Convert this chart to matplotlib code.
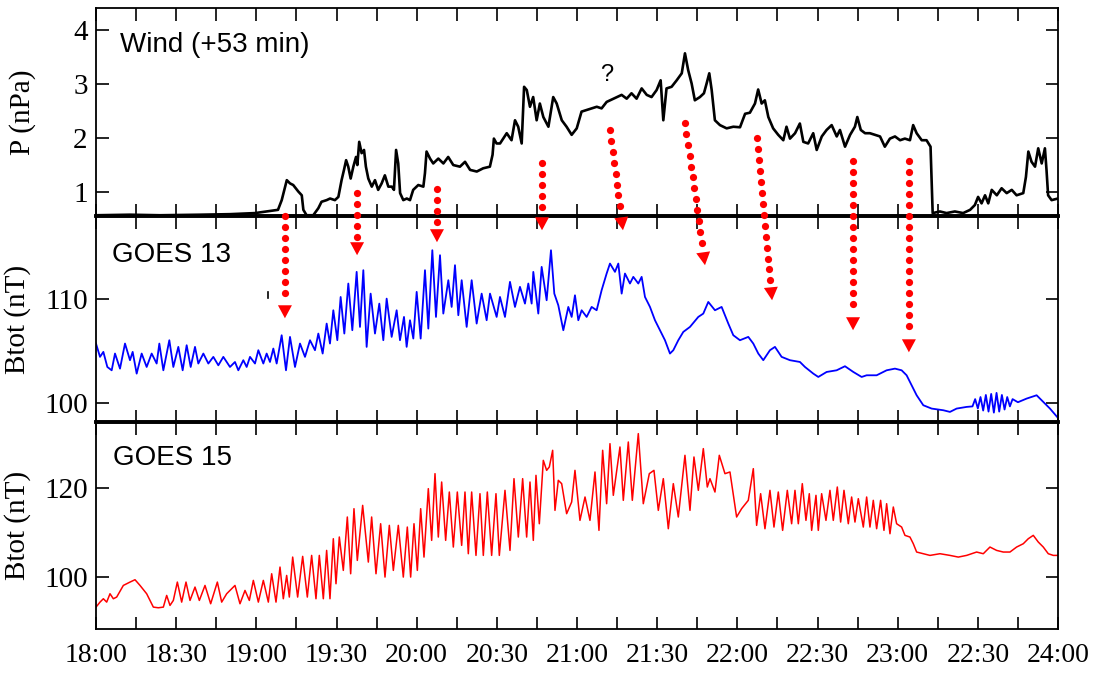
import matplotlib
matplotlib.use('Agg')
import matplotlib.pyplot as plt
from matplotlib.lines import Line2D
from matplotlib.patches import Polygon
import numpy as np

# ---------------- data (time in minutes after 18:00) ----------------
wind_t = [0, 12.7, 23.9, 38.9, 50.1, 59.5, 65.1, 68.1, 69.5, 71.4,
          72.6, 73.8, 75.7, 77.0, 77.6, 78.8, 81.3, 83.2, 84.4, 86.3,
          87.6, 89.4, 90.7, 91.9, 92.8, 93.6, 94.4, 95.3, 96.3, 97.3,
          97.8, 98.5, 99.4, 100.3, 101.0, 101.9, 103.2, 104.4, 105.6, 106.9,
          108.1, 109.4, 110.7, 111.5, 112.3, 113.1, 113.8, 115.0, 116.3, 117.5,
          118.7, 120.6, 122.5, 123.1, 123.7, 125.0, 126.2, 128.1, 130.0, 131.8,
          133.7, 136.2, 138.1, 140.0, 142.5, 144.9, 147.4, 148.4, 148.9, 149.9,
          151.2, 153.7, 155.5, 156.8, 158.0, 159.3, 160.2, 161.2, 162.4, 163.6,
          164.9, 166.1, 167.4, 169.3, 171.1, 172.4, 174.3, 176.1, 178.0, 179.9,
          181.7, 183.6, 185.5, 187.4, 189.2, 191.1, 196.7, 198.6, 200.4, 202.3,
          204.2, 206.1, 207.9, 209.8, 211.3, 212.3, 213.5, 215.4, 217.3, 219.2,
          220.4, 221.6, 222.9, 224.1, 226.0, 227.5, 228.5, 229.5, 230.4, 231.6,
          233.5, 236.0, 238.5, 241.0, 242.9, 244.7, 246.6, 247.8, 249.1, 250.3,
          251.6, 253.4, 255.3, 257.2, 258.4, 259.7, 261.6, 263.4, 264.7, 266.5,
          268.4, 269.7, 271.6, 273.4, 275.3, 277.2, 278.4, 280.3, 282.2, 284.0,
          284.9, 286.2, 287.8, 289.6, 291.5, 293.4, 295.2, 297.1, 299.0, 300.9,
          302.7, 304.6, 305.8, 307.1, 309.0, 310.8, 312.3, 313.1, 315.8, 318.3,
          321.4, 324.5, 327.1, 328.9, 330.1, 331.4, 332.7, 333.9, 335.2, 337.1,
          338.9, 340.8, 342.7, 344.5, 347.0, 348.0, 348.9, 350.1, 351.4, 352.6,
          353.9, 355.1, 355.7, 356.3, 357.6, 360]
wind_p = [0.57, 0.58, 0.57, 0.58, 0.59, 0.61, 0.65, 0.67, 0.85, 1.22,
          1.16, 1.13, 1.01, 0.94, 0.67, 0.57, 0.57, 0.70, 0.82, 0.85,
          0.88, 0.85, 0.91, 1.22, 1.41, 1.59, 1.47, 1.25, 1.47, 1.65,
          1.50, 1.93, 1.72, 1.78, 1.47, 1.25, 1.10, 1.22, 1.04, 1.16,
          1.31, 1.10, 1.10, 1.04, 1.78, 1.53, 0.98, 0.85, 0.88, 0.85,
          1.04, 1.13, 1.10, 1.35, 1.75, 1.62, 1.53, 1.62, 1.53, 1.65,
          1.50, 1.47, 1.56, 1.41, 1.38, 1.44, 1.47, 1.69, 1.99, 1.90,
          1.90, 2.09, 1.96, 2.33, 2.21, 1.90, 2.95, 2.89, 2.58, 2.76,
          2.33, 2.64, 2.39, 2.21, 2.76, 2.64, 2.33, 2.21, 2.06, 2.18,
          2.49, 2.52, 2.55, 2.58, 2.55, 2.67, 2.80, 2.73, 2.83, 2.73,
          2.92, 2.80, 2.76, 2.89, 3.07, 2.33, 2.92, 2.95, 3.07, 3.20,
          3.57, 3.26, 3.01, 2.70, 2.76, 2.83, 3.01, 3.20, 2.89, 2.33,
          2.24, 2.18, 2.21, 2.20, 2.45, 2.47, 2.64, 2.90, 2.64, 2.70,
          2.39, 2.18, 2.06, 1.96, 2.21, 1.99, 2.09, 2.27, 1.93, 1.90,
          2.09, 1.78, 2.03, 2.15, 2.24, 2.03, 2.15, 1.84, 2.06, 2.21,
          2.39, 2.15, 2.09, 2.09, 2.06, 2.03, 1.84, 1.99, 2.03, 1.96,
          1.99, 1.96, 2.24, 2.09, 1.96, 1.96, 1.84, 0.61, 0.64, 0.61,
          0.64, 0.61, 0.67, 0.76, 0.91, 0.79, 0.94, 0.79, 1.04, 0.94,
          1.07, 0.98, 1.04, 0.94, 0.98, 1.28, 1.75, 1.56, 1.47, 1.81,
          1.53, 1.81, 1.41, 0.94, 0.85, 0.88]

g13_t = [0, 1.50, 2.75, 4.24, 5.87, 7.11, 8.98, 10.85, 12.72, 13.72,
         15.22, 17.09, 18.96, 20.83, 22.70, 23.70, 25.20, 27.44, 28.94, 30.81,
         32.43, 33.93, 35.43, 37.05, 38.29, 40.17, 42.04, 43.91, 45.78, 47.65,
         50.14, 52.01, 53.26, 55.13, 56.38, 57.63, 59.50, 60.75, 62.62, 63.86,
         65.11, 66.36, 67.61, 69.48, 71.10, 72.60, 74.47, 76.34, 78.21, 80.08,
         81.95, 83.20, 84.82, 86.32, 87.56, 88.81, 90.31, 91.55, 92.93, 94.42,
         95.92, 97.54, 98.79, 100.04, 101.28, 102.78, 104.40, 106.02, 107.52, 108.77,
         110.64, 112.51, 113.76, 115.26, 116.25, 117.50, 118.75, 120.00, 121.49, 123.11,
         124.36, 125.86, 127.23, 128.73, 129.97, 131.85, 133.09, 134.34, 135.59, 136.84,
         138.71, 140.58, 142.45, 144.32, 146.19, 147.44, 149.93, 151.18, 153.05, 154.92,
         156.79, 158.66, 160.53, 161.78, 163.03, 163.65, 165.52, 166.77, 168.64, 170.26,
         171.51, 173.00, 174.88, 176.75, 178.00, 179.24, 180.49, 181.74, 183.61, 185.48,
         187.35, 189.22, 191.09, 192.34, 194.21, 195.46, 196.71, 197.95, 199.82, 201.07,
         202.94, 204.19, 205.44, 207.31, 209.18, 211.05, 212.92, 214.79, 216.04, 217.91,
         219.78, 222.28, 225.39, 227.26, 229.13, 231.63, 234.12, 236.62, 238.49, 240.98,
         244.10, 245.97, 247.84, 249.71, 252.21, 254.08, 256.57, 259.69, 263.43, 265.31,
         268.43, 270.30, 273.42, 277.16, 280.28, 283.40, 286.52, 288.39, 292.13, 295.87,
         298.99, 301.48, 303.35, 305.23, 307.10, 309.59, 312.71, 317.07, 319.57, 322.06,
         325.80, 328, 329, 330, 331, 332, 333, 334, 335, 336,
         337, 338, 339, 340, 341, 342, 343, 345, 348.25, 352.00,
         354.49, 356.99, 360]
g13_b = [105.74, 104.46, 104.94, 103.49, 103.17, 104.78, 103.33, 105.74, 104.14, 104.94,
         102.85, 104.78, 103.49, 104.78, 103.82, 105.74, 103.17, 106.06, 103.49, 105.42,
         103.17, 105.58, 103.49, 105.42, 103.82, 104.78, 103.82, 104.46, 103.65, 104.46,
         103.49, 103.97, 103.17, 104.14, 103.49, 104.46, 103.82, 105.10, 103.82, 104.78,
         103.97, 105.26, 103.82, 106.54, 103.17, 106.38, 103.49, 105.74, 104.46, 106.06,
         105.10, 106.70, 104.78, 107.66, 105.74, 108.94, 106.06, 110.22, 106.70, 111.51,
         107.02, 112.63, 107.34, 112.79, 105.42, 110.54, 106.70, 109.58, 106.06, 110.06,
         106.38, 108.94, 106.06, 108.30, 105.42, 107.98, 106.22, 110.71, 106.22, 112.79,
         107.18, 114.71, 108.30, 114.23, 108.62, 111.83, 109.26, 113.27, 108.46, 111.83,
         107.34, 111.83, 107.66, 110.54, 107.98, 110.54, 108.30, 110.22, 108.30, 111.67,
         109.26, 111.19, 109.58, 111.51, 109.58, 112.63, 108.62, 113.11, 109.90, 114.71,
         110.54, 109.42, 107.02, 109.26, 108.30, 110.38, 107.98, 108.94, 108.30, 109.26,
         108.94, 110.87, 112.47, 113.43, 112.63, 113.43, 110.54, 112.47, 111.51, 112.15,
         111.51, 112.15, 110.22, 109.26, 107.98, 107.02, 106.06, 104.78, 105.10, 106.06,
         106.86, 107.34, 108.30, 108.62, 109.74, 108.94, 109.26, 107.66, 106.54, 106.06,
         106.38, 105.74, 104.78, 104.14, 105.10, 105.42, 104.46, 104.14, 103.97, 103.49,
         102.85, 102.53, 103.01, 103.17, 103.56, 103.01, 102.53, 102.69, 102.69, 103.17,
         103.33, 103.17, 102.69, 101.73, 100.77, 99.81, 99.49, 99.33, 99.17, 99.49,
         99.65, 99.7, 100.4, 99.5, 100.6, 99.3, 100.8, 99.2, 100.9, 99.1,
         101.0, 99.2, 100.8, 99.4, 100.6, 99.7, 100.4, 100.1, 100.45, 100.77,
         100.13, 99.49, 98.59]

g15_t = [0, 1.50, 2.75, 4.0, 5.24, 6.49, 7.74, 10.23, 12.73, 14.6,
         16.47, 18.96, 21.46, 23.33, 25.2, 26.45, 27.69, 28.94, 30.44, 32.06,
         33.68, 35.18, 37.05, 38.67, 40.79, 42.91, 45.41, 47.03, 48.9, 52.01,
         53.88, 55.76, 57.38, 58.88, 60.75, 62.62, 64.49, 65.74, 67.36, 68.86,
         70.1, 71.35, 72.35, 73.6, 75.46, 77.34, 79.08, 80.7, 82.32, 83.57,
         85.07, 86.31, 87.56, 88.81, 89.81, 91.05, 92.55, 94.05, 95.3, 96.54,
         97.79, 99.79, 101.91, 103.15, 104.78, 106.52, 108.15, 109.77, 111.27, 113.13,
         115.0, 116.5, 117.75, 119.0, 120.25, 121.5, 122.74, 124.36, 125.61, 126.86,
         128.1, 129.35, 130.85, 132.22, 133.72, 135.21, 136.84, 138.08, 139.33, 140.58,
         142.2, 143.69, 144.94, 146.44, 148.06, 149.68, 150.93, 153.05, 154.92, 156.42,
         158.04, 159.66, 161.16, 162.41, 163.65, 164.65, 165.9, 167.39, 168.64, 169.64,
         170.89, 171.76, 173.0, 174.26, 176.12, 178.0, 179.24, 181.11, 183.0, 184.85,
         186.73, 188.22, 189.6, 191.09, 192.34, 193.59, 196.08, 197.33, 199.2, 200.7,
         202.94, 204.81, 207.06, 208.8, 210.43, 212.3, 214.17, 216.04, 217.91, 220.4,
         222.28, 223.77, 225.4, 227.27, 228.76, 229.76, 231.63, 233.25, 235.37, 237.24,
         239.73, 241.6, 244.1,
         245.98, 247.22, 248.72, 250.34, 252.21, 253.71, 255.33, 256.95, 258.7, 260.32,
         261.57, 262.82, 264.31, 265.68, 266.93, 267.81, 269.43, 270.3, 271.55, 273.17,
         274.66, 275.91, 277.41, 278.66, 279.91, 281.53, 282.77, 284.02, 285.27, 287.14,
         288.39, 289.63, 290.88, 292.13, 293.62, 294.87, 295.87, 297.12, 298.37, 299.61,
         301.48, 302.73, 304.6, 305.85, 307.1, 309.59, 312.09, 315.83, 319.57, 322.69,
         325.8, 329.55, 332.04, 334.54, 337.03, 339.52, 342.02, 344.52, 347.01, 348.88,
         350.75, 352.62, 354.49, 356.36, 358.24, 360]
g15_b = [93.15, 94.28, 95.04, 94.28, 96.17, 95.04, 95.42, 98.05, 98.81, 99.34,
         98.05, 96.17, 93.15, 93.0, 93.15, 95.79, 93.53, 94.66, 98.81, 94.28,
         98.81, 94.66, 97.68, 94.66, 98.05, 93.91, 98.81, 94.28, 96.17, 98.05,
         93.91, 96.92, 94.66, 99.19, 94.28, 99.19, 94.28, 100.69, 94.28, 102.2,
         95.04, 100.31, 95.42, 104.46, 95.42, 104.62, 95.42, 104.84, 95.04, 104.84,
         95.04, 105.97, 95.04, 108.61, 98.43, 109.0, 101.45, 113.52, 100.69, 115.4,
         103.71, 116.15, 103.33, 113.52, 100.69, 112.0, 99.94, 111.63, 101.45, 111.63,
         99.94, 111.25, 99.94, 112.0, 101.45, 115.4, 104.46, 119.93, 108.24, 123.32,
         108.99, 121.43, 108.24, 119.17, 106.73, 119.17, 107.11, 119.17, 105.22, 119.17,
         104.84, 118.79, 104.84, 119.17, 104.84, 118.79, 104.84, 119.55, 105.97, 122.19,
         108.99, 122.19, 108.99, 121.43, 108.24, 122.94, 112.0, 126.33, 124.07, 124.83,
         128.6, 115.02, 121.81, 121.06, 114.27, 116.91, 124.07, 112.76, 118.04, 112.76,
         123.7, 110.5, 128.6, 116.53, 130.1, 118.42, 129.35, 117.29, 130.48, 117.29,
         132.37, 116.53, 123.32, 124.07, 115.02, 122.19, 110.87, 121.06, 113.52, 127.47,
         115.02, 127.09, 119.55, 128.98, 120.3, 122.19, 119.17, 127.47, 123.32, 123.7,
         113.52, 115.4, 117.29,
         124.45, 111.63, 118.79, 110.87, 119.55, 111.25, 119.17, 110.5, 119.55, 112.0,
         119.55, 112.0, 121.06, 112.76, 118.79, 110.5, 118.42, 110.5, 118.79, 112.76,
         119.55, 112.76, 120.3, 112.38, 119.55, 112.0, 118.04, 112.38, 117.66, 111.25,
         118.04, 111.25, 117.29, 110.87, 117.29, 110.5, 116.53, 109.74, 115.78, 112.0,
         111.25, 109.37, 108.99, 107.48, 105.6, 105.22, 104.84, 105.22, 104.84, 104.46,
         104.84, 105.6, 105.22, 106.73, 105.97, 105.6, 105.6, 106.73, 107.48, 108.61,
         109.37, 107.86, 106.73, 105.22, 104.84, 104.84]

# stray mark in the GOES 13 panel
mark_t = [64.4, 64.4]
mark_b = [110.1, 110.7]

# red dotted arrows: start (time, P in top panel) -> end (time, Btot in GOES 13 panel)
arrow_t0 = [70.7, 97.7, 127.6, 166.9, 192.3, 220.4, 247.3, 283.3, 304.2]
arrow_p0 = [0.56, 0.98, 1.06, 1.54, 2.15, 2.28, 2.00, 1.57, 1.57]
arrow_t1 = [70.7, 97.7, 127.6, 166.9, 197.2, 227.9, 253.0, 283.3, 304.2]
arrow_b1 = [108.17, 114.23, 115.48, 116.63, 116.63, 113.27, 109.9, 107.02, 104.9]

xtick_pos = [0, 30, 60, 90, 120, 150, 180, 210, 240, 270, 300, 330, 360]
xtick_lab = ["18:00", "18:30", "19:00", "19:30", "20:00", "20:30", "21:00",
             "21:30", "22:00", "22:30", "23:00", "22:30", "24:00"]

# ---------------- figure ----------------
plt.rcParams['font.family'] = ['Liberation Serif', 'DejaVu Serif']
W, H = 1101, 673
fig = plt.figure(figsize=(W / 100, H / 100), dpi=100)
left, width = 96 / W, 962 / W
ax1 = fig.add_axes([left, (H - 216) / H, width, 208 / H])
ax2 = fig.add_axes([left, (H - 422) / H, width, 206 / H])
ax3 = fig.add_axes([left, (H - 629) / H, width, 207 / H])

ax1.plot(wind_t, wind_p, color='black', lw=1.9)
ax2.plot(g13_t, g13_b, color='#0000ff', lw=1.3)
ax2.plot(mark_t, mark_b, color='black', lw=1.2)
ax3.plot(g15_t, g15_b, color='#ff0000', lw=1.1)

ax1.set_ylim(0.556, 4.41)
ax2.set_ylim(98.2, 118.0)
ax3.set_ylim(88.2, 135.0)
ax1.set_yticks([1, 2, 3, 4])
ax2.set_yticks([100, 110])
ax3.set_yticks([100, 120])

for ax in (ax1, ax2, ax3):
    ax.set_xlim(0, 360)
    ax.set_xticks(xtick_pos)
    ax.set_xticks(np.arange(15, 360, 30), minor=True)
    ax.tick_params(which='both', direction='in', top=True, right=True,
                   length=9, width=1.2, labelsize=21, pad=6)
    for s in ax.spines.values():
        s.set_linewidth(1.3)
    ax.set_facecolor('none')

ax1.tick_params(labelbottom=False)
ax2.tick_params(labelbottom=False)
ax3.set_xticklabels(xtick_lab)
ax3.tick_params(axis='x', labelsize=20, pad=10)

ax1.spines['bottom'].set_linewidth(2.6)
ax2.spines['top'].set_linewidth(2.6)
ax2.spines['bottom'].set_linewidth(2.6)
ax3.spines['top'].set_linewidth(2.6)

ax1.set_ylabel('P (nPa)', fontsize=21)
ax2.set_ylabel('Btot (nT)', fontsize=21)
ax3.set_ylabel('Btot (nT)', fontsize=21)
ax1.yaxis.set_label_coords(-0.062, 0.5)
ax2.yaxis.set_label_coords(-0.068, 0.5)
ax3.yaxis.set_label_coords(-0.068, 0.5)

sans = ['Liberation Sans', 'DejaVu Sans']
ax1.text(0.025, 0.822, 'Wind (+53 min)', transform=ax1.transAxes,
         fontsize=20, family=sans, va='center', ha='left')
ax2.text(0.0166, 0.81, 'GOES 13', transform=ax2.transAxes,
         fontsize=20, family=sans, va='center', ha='left')
ax3.text(0.0177, 0.826, 'GOES 15', transform=ax3.transAxes,
         fontsize=20, family=sans, va='center', ha='left')
ax1.text(191.2, 3.17, '?', fontsize=17, family=sans, va='center', ha='center')

# ---------------- red dotted arrows ----------------
spacing, head_len, head_w = 11.0, 13.0, 14.0
for t0, p0, t1, b1 in zip(arrow_t0, arrow_p0, arrow_t1, arrow_b1):
    s = np.array(ax1.transData.transform((t0, p0)))
    e = np.array(ax2.transData.transform((t1, b1)))
    v = e - s
    L = np.hypot(*v)
    d = v / L
    perp = np.array([-d[1], d[0]])
    base = e - d * head_len
    n = int((L - head_len - 3) // spacing) + 1
    pts = np.array([s + d * spacing * k for k in range(n)])
    fig.add_artist(Line2D(pts[:, 0] / W, pts[:, 1] / H, transform=fig.transFigure,
                          linestyle='none', marker='o', markersize=5.2,
                          markerfacecolor='#ff0000', markeredgecolor='none',
                          zorder=10))
    tri = np.array([e, base + perp * head_w / 2, base - perp * head_w / 2])
    fig.add_artist(Polygon(np.column_stack([tri[:, 0] / W, tri[:, 1] / H]),
                           closed=True, transform=fig.transFigure,
                           facecolor='#ff0000', edgecolor='none', zorder=10))

fig.savefig('out.png', dpi=100)
